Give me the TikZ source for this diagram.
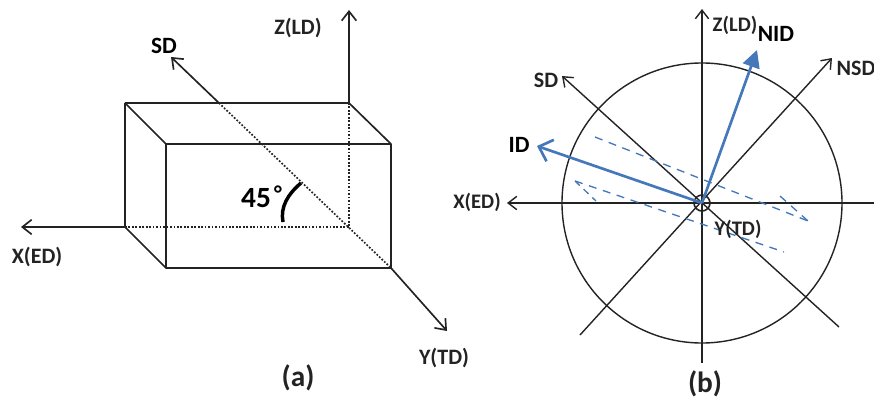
\documentclass[tikz,border=0pt]{standalone}
\usepackage{fontspec}
\setmainfont{Carlito}
\usetikzlibrary{arrows.meta}
\definecolor{bluel}{RGB}{68,120,186}
\definecolor{inkk}{RGB}{35,35,35}
\tikzset{
  ax/.style={draw=inkk,line width=1.25pt,-{Straight Barb[length=7pt,width=11pt,line width=1.25pt]}},
  edge/.style={draw=inkk,line width=1.25pt},
  dots/.style={draw=inkk,line width=1.25pt,dash pattern=on 1.3pt off 1.3pt},
  thin ax/.style={draw=inkk,line width=1.05pt,-{Straight Barb[length=6.5pt,width=10pt,line width=1.05pt]}},
  blueax/.style={draw=bluel,line width=2pt},
  bdash/.style={draw=bluel,line width=1pt,dash pattern=on 6pt off 5pt},
  lab/.style={font=\fontsize{16.5}{18}\selectfont\bfseries,text=inkk,inner sep=0pt},
  labr/.style={font=\fontsize{15.5}{18}\selectfont\bfseries,text=inkk,inner sep=0pt},
  strong/.style={font=\fontsize{17.5}{19}\selectfont\bfseries,text=black,inner sep=0pt},
  bigl/.style={font=\fontsize{22}{24}\selectfont\bfseries,text=inkk,inner sep=0pt},
}
\begin{document}
\begin{tikzpicture}[x=0.75pt,y=-0.75pt]
\useasboundingbox (0,0) rectangle (874,399);
% left: box corners
\coordinate (btl) at (125,103);
\coordinate (btr) at (349,103);
\coordinate (bbl) at (125,227);
\coordinate (bbr) at (349,227);
\coordinate (ftl) at (166,144);
\coordinate (ftr) at (391,144);
\coordinate (fbl) at (166,268);
\coordinate (fbr) at (391,268);
\coordinate (zend) at (349,10);
\coordinate (xend) at (21,227);
\coordinate (yend) at (447,331);
\coordinate (sdstart) at (219,103);
\coordinate (sdend) at (171,57);
\coordinate (arca) at (283,222);
\coordinate (arcb) at (301,183);
\draw[edge,line join=round] (btl) -- (btr) -- (ftr) -- (fbr) -- (fbl) -- (ftl) -- (ftr);
\draw[edge] (btl) -- (ftl);
\draw[edge,line join=round] (btl) -- (bbl) -- (fbl);
\draw[dots] (bbl) -- (bbr);
\draw[dots] (btr) -- (bbr);
\draw[dots] (sdstart) -- (fbr);
\draw[ax] (btr) -- (zend);
\draw[ax] (bbl) -- (xend);
\draw[ax] (fbr) -- (yend);
\draw[ax] (sdstart) -- (sdend);
\draw[draw=black,line width=2.6pt] (arca) .. controls (280,207) and (288,194) .. (arcb);
\node[lab] (zl) at (298,28) {Z(LD)};
\node[strong] (sdl) at (164,46) {SD};
\node[lab] (xl) at (37,257) {X(ED)};
\node[lab] (yl) at (444,358) {Y(TD)};
\node[font=\fontsize{22}{24}\selectfont\bfseries,text=black,inner sep=0pt] (ang) at (256,198) {45};
\node[font=\fontsize{17}{19}\selectfont\bfseries,text=black,inner sep=0pt] (deg) at (278,194) {°};
\node[bigl] (capa) at (298,378) {(a)};
% right
\coordinate (c) at (702,203);
\coordinate (vt) at (702,9);
\coordinate (vb) at (702,363);
\coordinate (hl) at (507,203);
\coordinate (hr) at (874,203);
\coordinate (sda) at (839,327);
\coordinate (sdb) at (562,76);
\coordinate (nsa) at (580,335);
\coordinate (nsb) at (832,58);
\coordinate (ide) at (537,146);
\coordinate (nide) at (757,50);
\coordinate (ida) at (595,137);
\coordinate (idb) at (808,221);
\coordinate (idc) at (575,181);
\coordinate (idd) at (784,252);
\coordinate (tka) at (780,196);
\coordinate (tkb) at (596,201);
\node[circle,draw=inkk,line width=1.05pt,minimum size=210pt,inner sep=0pt] (big) at (c) {};
\node[circle,draw=inkk,line width=1.2pt,minimum size=12pt,inner sep=0pt] (small) at (c) {};
\draw[thin ax] (vb) -- (vt);
\draw[thin ax] (hr) -- (hl);
\draw[thin ax] (sda) -- (sdb);
\draw[thin ax] (nsa) -- (nsb);
\draw[bdash] (ida) -- (idb);
\draw[bdash] (idc) -- (idd);
\draw[bdash] (tka) -- (idb);
\draw[draw=bluel,line width=1pt,dash pattern=on 5pt off 4pt] (idc) -- (tkb);
\draw[blueax,-{Straight Barb[length=9pt,width=17pt,line width=2pt]}] (c) -- (ide);
\draw[blueax,-{Triangle[length=13pt,width=13pt]}] (c) -- (nide);
\node[labr] (zr) at (735,25) {Z(LD)};
\node[strong] (nidl) at (776,34) {NID};
\node[lab] (nsdl) at (856,68) {NSD};
\node[lab] (sdr) at (546,80) {SD};
\node[strong] (idl) at (519,145) {ID};
\node[labr] (xr) at (477,202) {X(ED)};
\node[labr] (yr) at (738,229) {Y(TD)};
\node[bigl] (capb) at (705,384) {(b)};
\end{tikzpicture}
\end{document}
